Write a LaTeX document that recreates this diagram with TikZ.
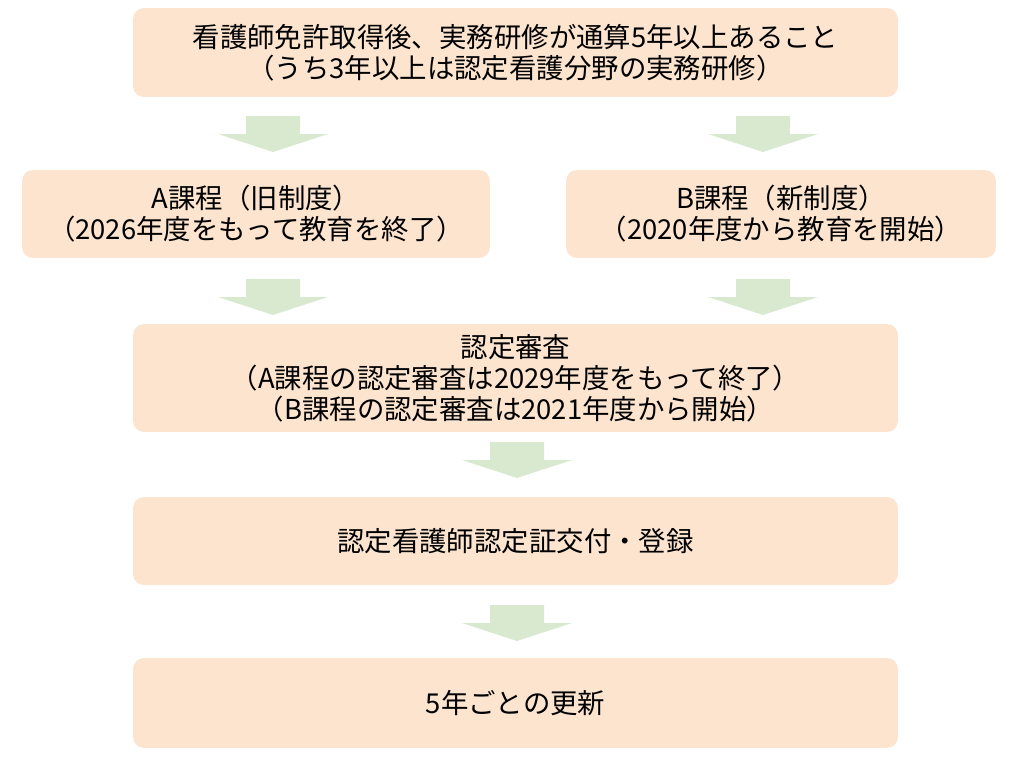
\documentclass[tikz,border=0pt]{standalone}
\usepackage{fontspec}
\setmainfont{Noto Sans CJK JP}
\usepackage{tikz}
\usetikzlibrary{positioning,calc}
\definecolor{boxcol}  {RGB}{252,228,206}
\definecolor{arrowcol}{RGB}{216,233,208}
\begin{document}
\begin{tikzpicture}[
  x=0.02cm, y=-0.02cm,
  sbox/.style={rectangle,rounded corners=0.22cm,fill=boxcol,
               font=\fontsize{15.6pt}{17.6pt}\selectfont,align=center,
               inner sep=0pt},
  wide/.style={sbox,minimum width=15.3cm},
  down/.pic={\fill[arrowcol] (-27,0) -- (27,0) -- (27,18) -- (55,18)
              -- (0,36) -- (-55,18) -- (-27,18) -- cycle;}
]
\useasboundingbox (0,0) rectangle (1024,758);
\node[wide,minimum height=1.78cm] (req) at (515.5,52.5)
  {看護師免許取得後、実務研修が通算5年以上あること\\（うち3年以上は認定看護分野の実務研修）};
\node[sbox,minimum width=9.36cm,minimum height=1.76cm] (kA) at (256,214)
  {A課程（旧制度）\\（2026年度をもって教育を終了）};
\node[sbox,minimum width=8.6cm,minimum height=1.76cm] (kB) at (781,214)
  {B課程（新制度）\\（2020年度から教育を開始）};
\node[wide,minimum height=2.16cm] (exam) at (515.5,378)
  {認定審査\\（A課程の認定審査は2029年度をもって終了）\\（B課程の認定審査は2021年度から開始）};
\node[wide,minimum height=1.76cm] (reg) at (515.5,541)
  {認定看護師認定証交付・登録};
\node[wide,minimum height=1.8cm] (renew) at (515.5,703)
  {5年ごとの更新};
% block arrows
\pic at (273,116) {down};
\pic at (763,116) {down};
\pic at (273,279) {down};
\pic at (763,279) {down};
\pic at (517,442) {down};
\pic at (517,605) {down};
\end{tikzpicture}
\end{document}
